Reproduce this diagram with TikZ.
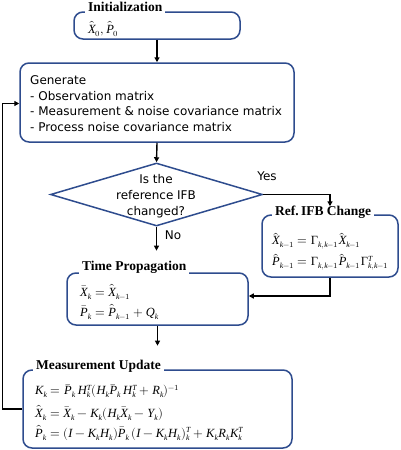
\documentclass[tikz,border=0pt]{standalone}
\usepackage{fontspec}
\usepackage{unicode-math}
\setmainfont{Liberation Serif}
\setsansfont{DejaVu Sans}
\setmathfont{Latin Modern Math}
\setmathfont{Liberation Serif Italic}[range={it/{Latin,latin}}]
\setmathfont{Liberation Serif}[range={up/{Latin,latin,Greek}}]
\DeclareMathSizes{12.5}{12.5}{7.8}{6}
\usetikzlibrary{shapes.geometric,arrows.meta}
\definecolor{bdr}{HTML}{2E4C8E}
\begin{document}
\begin{tikzpicture}[x=1pt,y=-1pt,
  box/.style={draw=bdr, line width=1.5pt, rounded corners=9pt, inner sep=0pt},
  ttl/.style={fill=white, font=\fontsize{13.5}{15}\selectfont\bfseries, inner xsep=3pt, inner ysep=1pt, anchor=west},
  txt/.style={font=\sffamily\fontsize{12}{15}\selectfont, inner sep=0pt, anchor=base west},
  dtxt/.style={font=\sffamily\fontsize{12}{15}\selectfont, inner sep=0pt, anchor=base},
  eq/.style={font=\fontsize{12.5}{14}\selectfont, inner sep=0pt, anchor=west},
  arr/.style={draw=black, line width=1.4pt, -{Triangle[length=5pt,width=5pt]}},
  lbl/.style={font=\sffamily\fontsize{12}{15}\selectfont, inner sep=0pt}]
\useasboundingbox (0,0) rectangle (400,450);

% Initialization
\node[box, minimum width=166pt, minimum height=27pt] (init) at (157,25.5) {};
\node[ttl] (initt) at (85,7) {Initialization};
\node[eq] (initc) at (88,29) {$\hat X_0, \hat P_0$};

% Generate
\node[box, minimum width=274pt, minimum height=79pt] (gen) at (157,102.5) {};
\node[txt] (gen1) at (30,84.5) {Generate};
\node[txt] (gen2) at (30,100) {- Observation matrix};
\node[txt] (gen3) at (30,115.5) {- Measurement \& noise covariance matrix};
\node[txt] (gen4) at (30,131) {- Process noise covariance matrix};

% Decision
\node[draw=bdr, line width=1.5pt, diamond, minimum width=212pt, minimum height=63pt, inner sep=0pt] (dec) at (156.5,194.5) {};
\node[dtxt] (dec1) at (156,183.5) {Is the};
\node[dtxt] (dec2) at (156,199.5) {reference IFB};
\node[dtxt] (dec3) at (156,215.5) {changed?};
\node[lbl] (yes) at (267,176) {Yes};
\node[lbl] (no) at (173,235) {No};

% Ref. IFB Change
\node[box, minimum width=136pt, minimum height=62pt] (ref) at (330,246) {};
\node[ttl] (reft) at (272,212) {Ref.\,IFB Change};
\node[eq] (ref1) at (272,241) {$\hat X_{k-1} = \Gamma_{k,k-1}\hat X_{k-1}$};
\node[eq] (ref2) at (272,262) {$\hat P_{k-1} = \Gamma_{k,k-1}\hat P_{k-1}\Gamma^T_{k,k-1}$};

% Time Propagation
\node[box, minimum width=181pt, minimum height=52pt] (tp) at (157.5,299) {};
\node[ttl] (tpt) at (79,267) {Time Propagation};
\node[eq] (tp1) at (80,292) {$\bar X_k = \hat X_{k-1}$};
\node[eq] (tp2) at (80,312) {$\bar P_k = \hat P_{k-1} + Q_k$};

% Measurement Update
\node[box, minimum width=269pt, minimum height=78pt] (mu) at (157.5,409) {};
\node[ttl] (mut) at (33,366) {Measurement Update};
\node[eq] (mu1) at (35,391) {$K_k = \bar P_k\, H_k^T (H_k \bar P_k\, H_k^T + R_k)^{-1}$};
\node[eq] (mu2) at (35,413) {$\hat X_k = \bar X_k - K_k (H_k \bar X_k - Y_k)$};
\node[eq] (mu3) at (35,433) {$\hat P_k = (I - K_k H_k)\bar P_k\, (I - K_k H_k)_k^T + K_k R_k K_k^T$};

% Connectors
\draw[arr] (init.south) -- (gen.north);
\draw[arr] (gen.south) -- (dec.north);
\draw[arr, shorten >=8pt] (dec.east) -| (ref.north);
\draw[arr, shorten >=9pt] (dec.south) -- (dec.south |- tpt.north);
\draw[arr] (ref.south) |- ([yshift=3pt]tp.east);
\draw[arr, shorten >=13pt] (tp.south) -- (tp.south |- mut.north);
\draw[arr] (mu.west) -- ++(-19.5,0) |- ([yshift=-1pt]gen.west);
\end{tikzpicture}
\end{document}
